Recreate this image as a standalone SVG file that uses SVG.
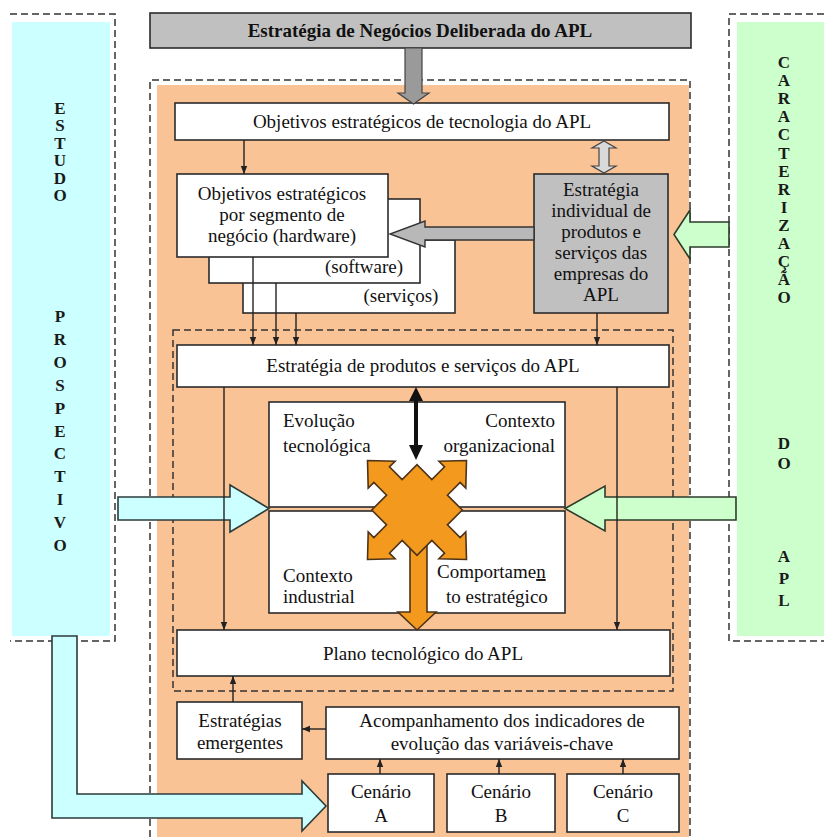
<svg xmlns="http://www.w3.org/2000/svg" width="824" height="837" viewBox="0 0 824 837">
<defs>
<style>
.box{fill:#fff;stroke:#2b2b2b;stroke-width:1.6}
.gbox{fill:#c0c0c0;stroke:#2b2b2b;stroke-width:1.6}
.t{font-size:19px;fill:#111}
.tb{font-size:19px;font-weight:bold;fill:#111}
.v{font-size:17px;font-weight:bold;fill:#1a1a1a;text-anchor:middle}
.m{text-anchor:middle}
.e{text-anchor:end}
.dash{fill:none;stroke:#333;stroke-width:1.5;stroke-dasharray:7 4}
.ln{fill:none;stroke:#222;stroke-width:1.4}
.cy{fill:#ccffff;stroke:#2b3b3b;stroke-width:1.6}
.gr{fill:#ccffcc;stroke:#2b3b2b;stroke-width:1.6}
.or{fill:#f39a1e;stroke:#4d3319;stroke-width:1.6;stroke-linejoin:miter}
</style>
<marker id="ah" viewBox="0 0 10 10" refX="10" refY="5" markerWidth="8" markerHeight="8" markerUnits="userSpaceOnUse" orient="auto"><path d="M0,1 L10,5 L0,9 z" fill="#222"/></marker>
</defs>
<g font-family="Liberation Serif, Times New Roman, DejaVu Serif, serif">
<rect width="824" height="837" fill="#fff"/>

<g id="panel-left">
<rect x="12" y="22" width="98" height="614" fill="#ccffff"/>
<path class="dash" d="M10,14 H115 V641 H10"/>
<text class="v" x="60" y="114"><tspan x="60">E</tspan><tspan x="60" dy="17.4">S</tspan><tspan x="60" dy="17.4">T</tspan><tspan x="60" dy="17.4">U</tspan><tspan x="60" dy="17.4">D</tspan><tspan x="60" dy="17.4">O</tspan></text>
<text class="v" x="60" y="322"><tspan x="60">P</tspan><tspan x="60" dy="22.9">R</tspan><tspan x="60" dy="22.9">O</tspan><tspan x="60" dy="22.9">S</tspan><tspan x="60" dy="22.9">P</tspan><tspan x="60" dy="22.9">E</tspan><tspan x="60" dy="22.9">C</tspan><tspan x="60" dy="22.9">T</tspan><tspan x="60" dy="22.9">I</tspan><tspan x="60" dy="22.9">V</tspan><tspan x="60" dy="22.9">O</tspan></text>
</g>
<g id="panel-right">
<rect x="737" y="22" width="87" height="614" fill="#ccffcc"/>
<path class="dash" d="M824,14 H729 V641 H824"/>
<text class="v" x="784" y="68"><tspan x="784">C</tspan><tspan x="784" dy="18.1">A</tspan><tspan x="784" dy="18.1">R</tspan><tspan x="784" dy="18.1">A</tspan><tspan x="784" dy="18.1">C</tspan><tspan x="784" dy="18.1">T</tspan><tspan x="784" dy="18.1">E</tspan><tspan x="784" dy="18.1">R</tspan><tspan x="784" dy="18.1">I</tspan><tspan x="784" dy="18.1">Z</tspan><tspan x="784" dy="18.1">A</tspan><tspan x="784" dy="18.1">Ç</tspan><tspan x="784" dy="18.1">Ã</tspan><tspan x="784" dy="18.1">O</tspan></text>
<text class="v" x="784" y="449"><tspan x="784">D</tspan><tspan x="784" dy="20">O</tspan></text>
<text class="v" x="784" y="562"><tspan x="784">A</tspan><tspan x="784" dy="22">P</tspan><tspan x="784" dy="22">L</tspan></text>
</g>

<rect x="157" y="85" width="532" height="752" fill="#fac396"/>
<path class="dash" d="M150,837 V80 H690 V837"/>
<path class="dash" d="M173,330 H673 V691 H173 Z"/>

<g id="title">
<rect class="gbox" x="150" y="13" width="541" height="35"/>
<text class="tb m" x="420" y="37">Estratégia de Negócios Deliberada do APL</text>
</g>

<g id="obj-tec">
<rect class="box" x="175" y="103" width="494" height="37"/>
<text class="t m" x="422" y="128">Objetivos estratégicos de tecnologia do APL</text>
</g>

<g id="seg-sv">
<rect class="box" x="243" y="240" width="212" height="73"/>
<text class="t m" x="401" y="302">(serviços)</text>
</g>
<g id="seg-sw">
<rect class="box" x="209" y="199" width="211" height="84"/>
<text class="t m" x="364" y="273">(software)</text>
</g>
<g id="seg-hw">
<rect class="box" x="177" y="174" width="211" height="83"/>
<text class="t m" x="282" y="200">Objetivos estratégicos</text>
<text class="t m" x="282" y="221">por segmento de</text>
<text class="t m" x="282" y="242">negócio (hardware)</text>
</g>

<g id="estr-ind">
<rect class="gbox" x="534" y="174" width="134" height="139"/>
<text class="t m" x="601" y="196">Estratégia</text>
<text class="t m" x="601" y="217">individual de</text>
<text class="t m" x="601" y="238">produtos e</text>
<text class="t m" x="601" y="259">serviços das</text>
<text class="t m" x="601" y="280">empresas do</text>
<text class="t m" x="601" y="301">APL</text>
</g>

<g id="estr-prod">
<rect class="box" x="177" y="345" width="492" height="42"/>
<text class="t m" x="423" y="372">Estratégia de produtos e serviços do APL</text>
</g>

<g id="ctx-upper">
<rect class="box" x="269" y="402" width="296" height="105"/>
<text class="t" x="283" y="427">Evolução</text>
<text class="t" x="283" y="452">tecnológica</text>
<text class="t e" x="555" y="427">Contexto</text>
<text class="t e" x="555" y="452">organizacional</text>
</g>
<g id="ctx-lower">
<rect class="box" x="269" y="511" width="296" height="102"/>
<text class="t" x="283" y="582">Contexto</text>
<text class="t" x="283" y="603">industrial</text>
<text class="t" x="437" y="578">Comportame<tspan text-decoration="underline">n</tspan></text>
<text class="t" x="446" y="603">to estratégico</text>
</g>

<g id="plano">
<rect class="box" x="177" y="630" width="493" height="46"/>
<text class="t m" x="423" y="660">Plano tecnológico do APL</text>
</g>

<g id="estr-emerg">
<rect class="box" x="177" y="702" width="125" height="57"/>
<text class="t m" x="240" y="727">Estratégias</text>
<text class="t m" x="240" y="749">emergentes</text>
</g>
<g id="acomp">
<rect class="box" x="326" y="707" width="353" height="52"/>
<text class="t m" x="502" y="727">Acompanhamento dos indicadores de</text>
<text class="t m" x="502" y="750">evolução das variáveis-chave</text>
</g>
<g id="cen-a">
<rect class="box" x="328" y="774" width="106" height="58"/>
<text class="t m" x="381" y="798">Cenário</text>
<text class="t m" x="381" y="822">A</text>
</g>
<g id="cen-b">
<rect class="box" x="447" y="774" width="108" height="58"/>
<text class="t m" x="501" y="798">Cenário</text>
<text class="t m" x="501" y="822">B</text>
</g>
<g id="cen-c">
<rect class="box" x="567" y="774" width="112" height="58"/>
<text class="t m" x="623" y="798">Cenário</text>
<text class="t m" x="623" y="822">C</text>
</g>

<g id="star">
<polygon class="or" points="410,540 427,540 427,612 436,612 417,630 398,612 410,612"/>
<polygon class="or" transform="translate(417,510) rotate(45)" points="32,-32 32,-11 50,-11 50,-19 70,0 50,19 50,11 32,11 32,32 11,32 11,50 19,50 0,70 -19,50 -11,50 -11,32 -32,32 -32,11 -50,11 -50,19 -70,0 -50,-19 -50,-11 -32,-11 -32,-32 -11,-32 -11,-50 -19,-50 0,-70 19,-50 11,-50 11,-32"/>
</g>

<g id="connectors">
<polygon points="405,48 422,48 422,93 429,93 413.5,104 398,93 405,93" fill="#9a9a9a" stroke="#444" stroke-width="1.2"/>
<polygon points="604,141 616,148 609,148 609,166 616,166 604,173 592,166 599,166 599,148 592,148" fill="#d9d9d9" stroke="#444" stroke-width="1.2"/>
<polygon points="534,227 425,227 425,221 390,234 425,247 425,240 534,240" fill="#b8b8b8" stroke="#333" stroke-width="1.4"/>
<polygon class="gr" points="729,222 690,222 690,210 674,234.5 690,259 690,247 729,247"/>
<polygon class="cy" points="118,497 230,497 230,485 269,508.5 230,532 230,520 118,520"/>
<polygon class="gr" points="736,497 605,497 605,486 565,508.5 605,531 605,520 736,520"/>
<polygon class="cy" points="52,636 77,636 77,794 302,794 302,781 326,806 302,831 302,818 52,818"/>
<polygon points="416,387 423,401 418,401 418,445 423,445 416,460 409,445 414,445 414,401 409,401" fill="#111"/>
<path class="ln" marker-end="url(#ah)" d="M244,140 V174"/>
<path class="ln" marker-end="url(#ah)" d="M253,257 V345"/>
<path class="ln" marker-end="url(#ah)" d="M276,283 V345"/>
<path class="ln" marker-end="url(#ah)" d="M296,313 V345"/>
<path class="ln" marker-end="url(#ah)" d="M597,313 V345"/>
<path class="ln" marker-end="url(#ah)" d="M224,387 V630"/>
<path class="ln" marker-end="url(#ah)" d="M617,387 V630"/>
<path class="ln" marker-end="url(#ah)" d="M233,702 V676"/>
<path class="ln" marker-end="url(#ah)" d="M326,729 H302"/>
<path class="ln" marker-end="url(#ah)" d="M380,774 V759"/>
<path class="ln" marker-end="url(#ah)" d="M499,774 V759"/>
<path class="ln" marker-end="url(#ah)" d="M623,774 V759"/>
</g>
</g>
</svg>
